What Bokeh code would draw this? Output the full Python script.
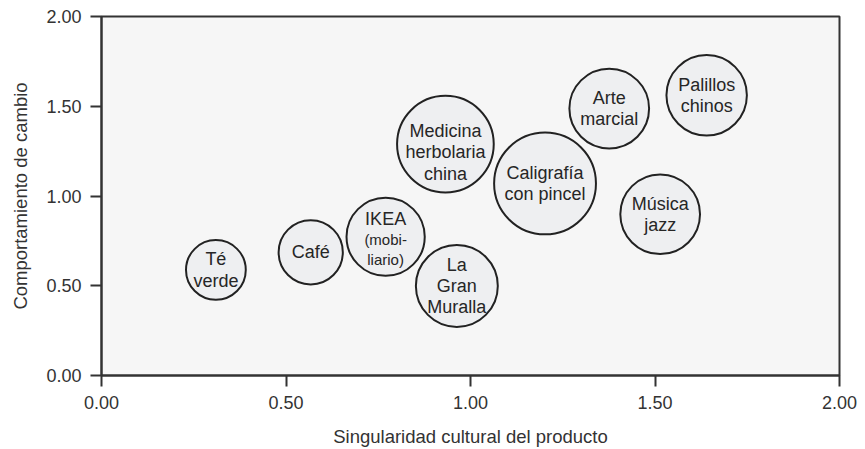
from bokeh.plotting import figure
from bokeh.models import Range1d, FixedTicker, ColumnDataSource
from bokeh.core.properties import value
from bokeh.embed import file_html
from bokeh.resources import INLINE

# ---- data ----
labels = ["Té\nverde", "Café", "IKEA", "La\nGran\nMuralla", "Medicina\nherbolaria\nchina",
          "Caligrafía\ncon pincel", "Arte\nmarcial", "Palillos\nchinos", "Música\njazz"]
sublabels = ["", "", "(mobi-\nliario)", "", "", "", "", "", ""]
singularidad = [0.31, 0.567, 0.770, 0.963, 0.932, 1.202, 1.376, 1.640, 1.514]
comportamiento = [0.588, 0.686, 0.773, 0.499, 1.289, 1.070, 1.487, 1.561, 0.898]
bubble_size = [0.081, 0.087, 0.106, 0.111, 0.131, 0.138, 0.108, 0.109, 0.108]
tick_values = [0.0, 0.5, 1.0, 1.5, 2.0]
tick_labels = ["0.00", "0.50", "1.00", "1.50", "2.00"]

# ---- styling ----
FONT_NAME = "Liberation Sans"
FONT = value(FONT_NAME)
label_dy = {"IKEA": -18, "Medicina\nherbolaria\nchina": 8}

src = ColumnDataSource(dict(
    x=singularidad, y=comportamiento, r=bubble_size, label=labels, sub=sublabels,
    dy=[label_dy.get(l, 0) for l in labels],
))

p = figure(width=857, height=449, output_backend="svg", toolbar_location=None,
           x_range=Range1d(0, 2), y_range=Range1d(0, 2),
           min_border_left=101, min_border_right=18, min_border_top=16, min_border_bottom=73)
p.background_fill_color = "#f6f6f6"
p.border_fill_color = "white"
p.outline_line_color = "#333333"
p.outline_line_width = 2
p.grid.visible = False

for ax in (p.xaxis[0], p.yaxis[0]):
    ax.ticker = FixedTicker(ticks=tick_values)
    ax.major_label_overrides = {v: t for v, t in zip(tick_values, tick_labels)}
    ax.minor_tick_line_color = None
    ax.major_tick_in = 0
    ax.major_tick_out = 11
    ax.major_tick_line_width = 2
    ax.major_tick_line_color = "#333333"
    ax.axis_line_width = 2
    ax.axis_line_color = "#333333"
    ax.major_label_text_font = FONT_NAME
    ax.major_label_text_font_size = "18px"
    ax.major_label_text_color = "#333333"
    ax.axis_label_text_font = FONT_NAME
    ax.axis_label_text_font_size = "18.5px"
    ax.axis_label_text_font_style = "normal"
    ax.axis_label_text_color = "#333333"

p.xaxis.axis_label = "Singularidad cultural del producto"
p.yaxis.axis_label = "Comportamiento de cambio"
p.xaxis.major_label_standoff = 9
p.yaxis.major_label_standoff = 9
p.xaxis.axis_label_standoff = 14
p.yaxis.axis_label_standoff = 12

p.circle(x="x", y="y", radius="r", source=src, fill_color="#eeeff1",
         line_color="#222222", line_width=2)

p.text(x="x", y="y", text="label", source=src, y_offset="dy",
       text_font=FONT, text_font_size="18px", text_color="#262626",
       text_align="center", text_baseline="middle", text_line_height=1.07)
p.text(x="x", y="y", text="sub", source=src, y_offset=13,
       text_font=FONT, text_font_size="15px", text_color="#262626",
       text_align="center", text_baseline="middle", text_line_height=1.19)

open("out.html", "w").write(file_html(p, INLINE))
